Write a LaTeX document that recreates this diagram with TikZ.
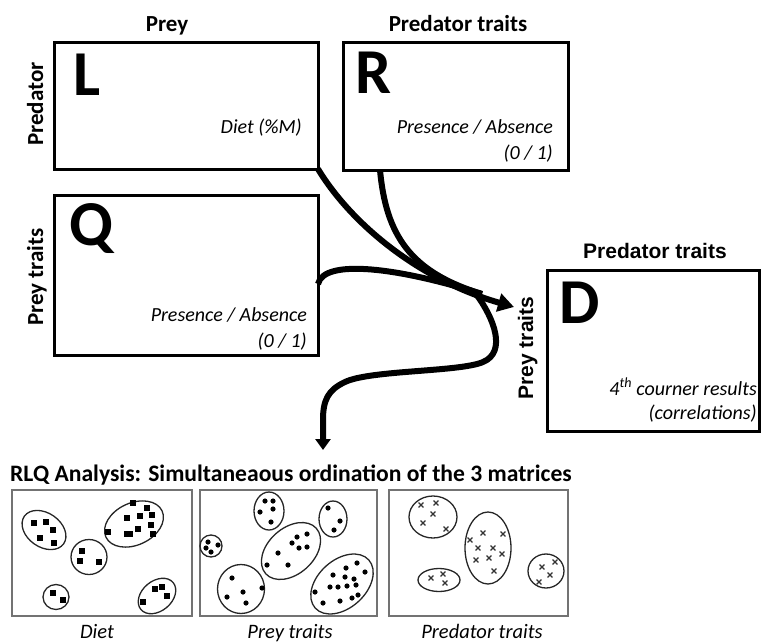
\documentclass[tikz,border=0pt]{standalone}
\usepackage{fontspec}
\setmainfont{Carlito}
\newfontfamily\arialf{Liberation Sans}
\usetikzlibrary{arrows.meta}
\begin{document}
\begin{tikzpicture}[x=1pt,y=-1pt,
  box/.style={draw, line width=3pt, outer sep=0pt, inner sep=0pt, anchor=north west},
  bigl/.style={inner sep=0pt, anchor=base west, font=\fontsize{64}{64}\selectfont\bfseries},
  head/.style={inner sep=0pt, anchor=base, font=\fontsize{23}{27}\selectfont\bfseries},
  headd/.style={inner sep=0pt, anchor=base, font=\arialf\fontsize{21}{25}\selectfont\bfseries},
  note/.style={inner sep=0pt, anchor=base east, font=\fontsize{20}{24}\selectfont\itshape},
  conn/.style={line width=6pt},
  panel/.style={draw=black!55, line width=1.6pt, outer sep=0pt, inner sep=0pt, anchor=north west},
  clus/.style={draw=black!85, line width=1.3pt},
  paneltxt/.style={inner sep=0pt, anchor=base, font=\fontsize{20.5}{24}\selectfont\itshape},
  xs/.style={draw=black!80, line width=1.1pt}
]
\useasboundingbox (0,0) rectangle (761,643);

% main boxes
\node[box, minimum width=264pt, minimum height=127pt] (L) at (54,42) {};
\node[box, minimum width=225pt, minimum height=128pt] (R) at (343,42) {};
\node[box, minimum width=264pt, minimum height=160pt] (Q) at (54,195) {};
\node[box, minimum width=212.5pt, minimum height=161pt] (D) at (547,270) {};

% headers
\node[head] (hprey) at (167,31) {Prey};
\node[head] (hpred) at (458,31) {Predator traits};
\node[head, rotate=90] (vpred) at (43,104) {Predator};
\node[head, rotate=90] (vprey) at (43,277) {Prey traits};
\node[headd] (hdpred) at (655,258) {Predator traits};
\node[headd, rotate=90] (vdprey) at (533,348) {Prey traits};

% big letters
\node[bigl] (Lt) at (73,95) {L};
\node[bigl] (Rt) at (355,93) {R};
\node[bigl] (Qt) at (69,245) {Q};
\node[bigl] (Dt) at (559,323) {D};

% notes
\node[note] (Ln) at (302,133) {Diet (\%M)};
\node[note] (Rn1) at (553,133) {Presence / Absence};
\node[note] (Rn2) at (553,159) {(0 / 1)};
\node[note] (Qn1) at (307,321) {Presence / Absence};
\node[note] (Qn2) at (307,347) {(0 / 1)};
\node[note] (Dn1) at (757,395) {4\textsuperscript{th} courner results};
\node[note] (Dn2) at (757,419) {(correlations)};

% connectors
\coordinate (Dtip) at (514,307);
\coordinate (M) at (482,294);
\coordinate (rlqin) at (323,450);
\draw[conn, -{Triangle[length=16pt,width=18pt]}] (L.south east) .. controls (352,225) and (420,280) .. (Dtip);
\draw[conn] ([xshift=37pt]R.south west) .. controls (386,235) and (410,272) .. (M);
\draw[conn] ([yshift=-9pt]Q.east) .. controls (324,258) and (400,268) .. (M);
\draw[conn, -{Triangle[length=11pt,width=15pt]}] (476,294) .. controls (494,318) and (507,352) .. (483,362)
  .. controls (460,372) and (370,370) .. (345,382) .. controls (328,390) and (323,400) .. (323,420) -- (rlqin);

% title
\node[inner sep=0pt, anchor=base west, font=\fontsize{23.6}{27}\selectfont\bfseries] (title) at (10,481)
  {RLQ Analysis: Simultaneaous ordination of the 3 matrices};

% panels
\node[panel, minimum width=180pt, minimum height=126pt] (P1) at (12,490) {};
\node[panel, minimum width=177pt, minimum height=126pt] (P2) at (200,490) {};
\node[panel, minimum width=179pt, minimum height=126pt] (P3) at (389,490) {};
\node[paneltxt] (c1) at (97,638) {Diet};
\node[paneltxt] (c2) at (290,638) {Prey traits};
\node[paneltxt] (c3) at (482,638) {Predator traits};

% panel 1 clusters
\draw[clus, rotate around={-35:(44,530)}] (44,530) ellipse [x radius=24, y radius=17];
\draw[clus, rotate around={25:(134,524)}] (134,524) ellipse [x radius=31, y radius=21];
\draw[clus] (89,557) ellipse [x radius=18, y radius=17.5];
\draw[clus] (56,597) ellipse [x radius=13, y radius=12.5];
\draw[clus, rotate around={40:(157,596)}] (157,596) ellipse [x radius=21, y radius=15];
\foreach \p in {(34,523),(46,522),(53,530),(40,538),(54,543),
  (133,503),(147,508),(127,518),(140,516),(152,515),(108,532),(127,534),(130,534),(138,529),(151,525),(153,534),
  (82,551),(80,561),(99,562),(53,593),(63,600),(155,589),(162,587),(167,596),(143,602)}
  \fill \p ++(-2.8,-2.8) rectangle ++(5.6,5.6);

% panel 2 clusters
\draw[clus] (211,546) ellipse [x radius=11, y radius=11];
\draw[clus] (269,511) ellipse [x radius=15, y radius=19];
\draw[clus] (333,519) ellipse [x radius=14, y radius=18];
\draw[clus, rotate around={42:(291,551)}] (291,551) ellipse [x radius=34, y radius=23];
\draw[clus] (241,589) ellipse [x radius=23.5, y radius=24.5];
\draw[clus, rotate around={42:(342,584)}] (342,584) ellipse [x radius=36, y radius=24];
\foreach \p in {(208,542),(206,548),(211,552),(218,545),
  (265,501),(273,501),(260,512),(273,509),(271,522),
  (328,508),(340,521),(334,530),
  (297,537),(307,534),(292,543),(299,548),(307,547),(278,553),(267,565),(288,565),
  (232,578),(243,592),(262,588),(227,597),(246,603),
  (357,563),(346,568),(365,572),(333,575),(345,577),(354,579),(330,587),(338,587),(347,586),(356,585),
  (315,592),(358,595),(352,598),(340,601),(323,603)}
  \fill \p circle (2.6);

% panel 3 clusters
\draw[clus] (433,517) ellipse [x radius=24, y radius=21];
\draw[clus] (439,580) ellipse [x radius=21, y radius=11.5];
\draw[clus] (488,548) ellipse [x radius=23, y radius=36];
\draw[clus] (546,571) ellipse [x radius=18, y radius=17];
\foreach \p in {(421,505),(436,503),(433,514),(423,523),(446,529),
  (431,578),(443,574),(445,583),
  (483,533),(503,534),(470,540),(478,548),(493,548),(502,554),(476,560),(489,558),(494,571),
  (542,567),(555,562),(550,575),(539,582)}
  \draw[xs] \p ++(-2.4,-2.4) -- ++(4.8,4.8) \p ++(-2.4,2.4) -- ++(4.8,-4.8);
\end{tikzpicture}
\end{document}
